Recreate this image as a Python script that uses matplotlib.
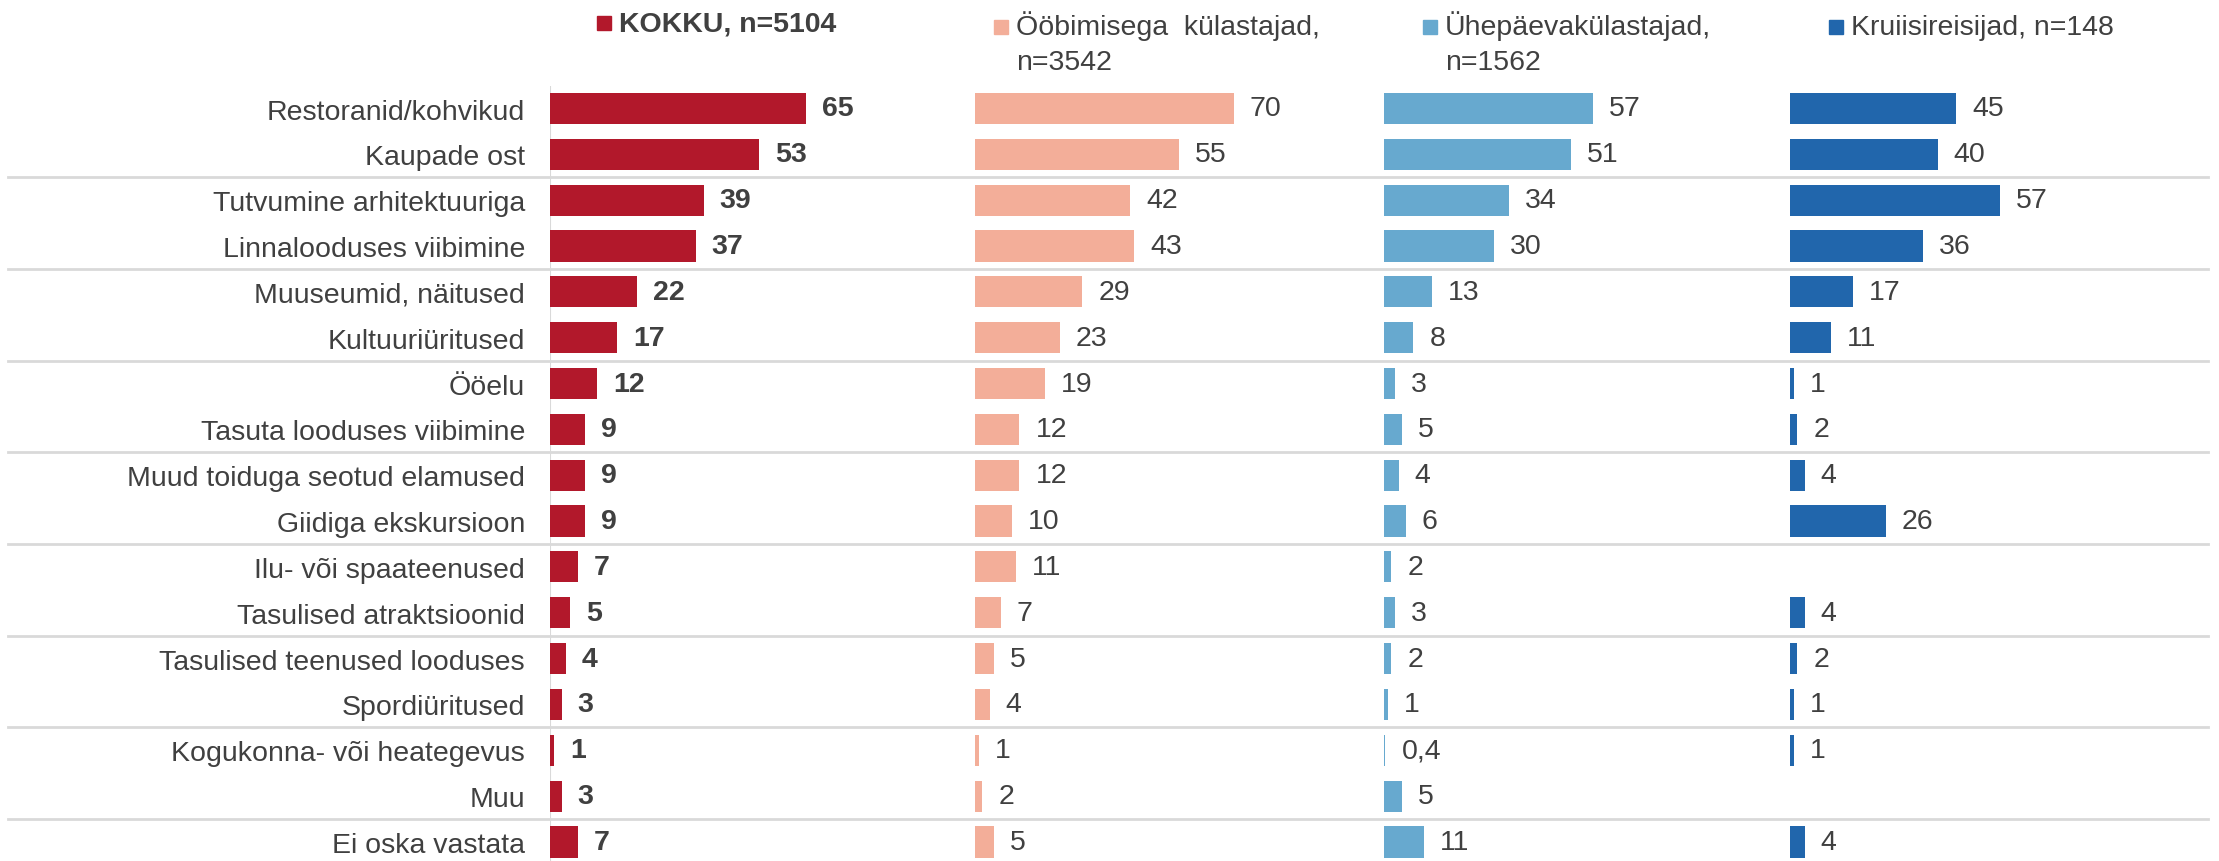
import numpy as np
import matplotlib.pyplot as plt
from matplotlib.patches import Rectangle
from matplotlib.transforms import blended_transform_factory

plt.rcParams['font.family'] = ['Liberation Sans', 'DejaVu Sans']

# categories (top to bottom)
categories = ['Restoranid/kohvikud', 'Kaupade ost', 'Tutvumine arhitektuuriga',
              'Linnalooduses viibimine', 'Muuseumid, näitused', 'Kultuuriüritused',
              'Ööelu', 'Tasuta looduses viibimine', 'Muud toiduga seotud elamused',
              'Giidiga ekskursioon', 'Ilu- või spaateenused', 'Tasulised atraktsioonid',
              'Tasulised teenused looduses', 'Spordiüritused', 'Kogukonna- või heategevus',
              'Muu', 'Ei oska vastata']

# series values (%)
kokku = [65, 53, 39, 37, 22, 17, 12, 9, 9, 9, 7, 5, 4, 3, 1, 3, 7]
oobimisega = [70, 55, 42, 43, 29, 23, 19, 12, 12, 10, 11, 7, 5, 4, 1, 2, 5]
uhepaeva = [57, 51, 34, 30, 13, 8, 3, 5, 4, 6, 2, 3, 2, 1, 0.4, 5, 11]
kruiis = [45, 40, 57, 36, 17, 11, 1, 2, 4, 26, None, 4, 2, 1, 1, None, 4]

series_names = ['KOKKU, n=5104', 'Ööbimisega  külastajad,\nn=3542',
                'Ühepäevakülastajad,\nn=1562', 'Kruiisireisijad, n=148']
colors = ['#B2182B', '#F3AE99', '#67A9CF', '#2166AC']
text_col = '#404040'

W, H = 2219, 862
fig = plt.figure(figsize=[W/100, H/100], dpi=100)

# panel layout in pixels: left edge, x max of axis
panels = [(550, 101.5), (975, 108.1), (1384, 109.0), (1790, 108.4)]
pw = 400
row0 = 109.5
pitch = 45.84
ax_top = row0 - pitch/2
ybot = (H - row0)/pitch
n = len(categories)
ypos = np.arange(n)

def fmt(v):
    if v < 1:
        return ('%.1f' % v).replace('.', ',')
    return '%d' % round(v)

axes = []
data = [kokku, oobimisega, uhepaeva, kruiis]
for k, (left, xmax) in enumerate(panels):
    ax = fig.add_axes([left/W, 0, pw/W, (H - ax_top)/H])
    ax.patch.set_visible(False)
    vals = data[k]
    for i, v in enumerate(vals):
        if v is None:
            continue
        ax.barh(i, v, height=0.68, color=colors[k], linewidth=0)
        ax.annotate(fmt(v), (v, i), xytext=(11.5, 0), textcoords='offset points',
                    va='center', ha='left', fontsize=20.5, color=text_col,
                    fontweight='bold' if k == 0 else 'normal')
    ax.set_xlim(0, xmax)
    ax.set_ylim(ybot, -0.5)
    for s in ax.spines.values():
        s.set_visible(False)
    ax.set_xticks([])
    if k == 0:
        ax.set_yticks(ypos)
        ax.set_yticklabels(categories, fontsize=20.5, color=text_col)
        ax.tick_params(axis='y', length=0, pad=18)
        ax.axvline(0, color='#D9D9D9', linewidth=1.5, zorder=0)
    else:
        ax.set_yticks([])
    axes.append(ax)

# separators every two rows
tr = blended_transform_factory(fig.transFigure, axes[0].transData)
for y in np.arange(1.5, n - 1, 2):
    axes[0].plot([8/W, 2208/W], [y, y], transform=tr, color='#D9D9D9',
                 linewidth=2, clip_on=False, zorder=0)

# legend entries above each panel
leg_pos = [(597, 31), (994, 35), (1423, 35), (1829, 35)]
for k, (lx, ly) in enumerate(leg_pos):
    fig.add_artist(Rectangle((lx/W, 1 - ly/H), 14/W, 14/H,
                             transform=fig.transFigure, color=colors[k]))
    for j, line in enumerate(series_names[k].split('\n')):
        fig.text((lx + 22)/W, 1 - (ly + 35*j)/H, line, fontsize=20.5,
                 color=text_col, va='baseline', ha='left',
                 fontweight='bold' if k == 0 else 'normal')

plt.savefig('out.png', dpi=100)
